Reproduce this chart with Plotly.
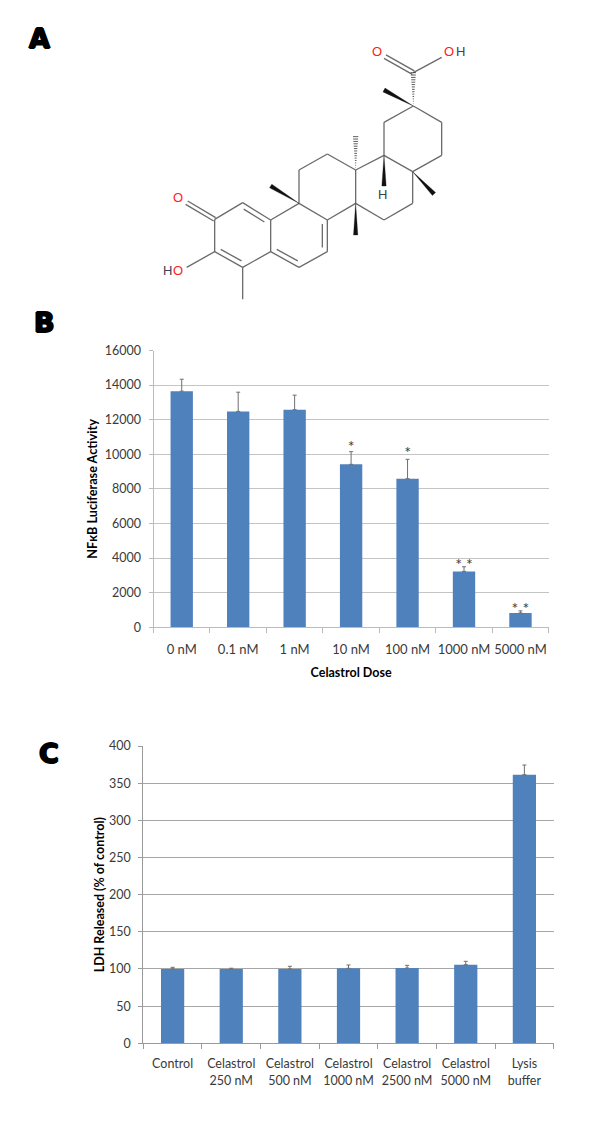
import plotly.graph_objects as go

# ---- data: panel B
dose_labels = ["0 nM", "0.1 nM", "1 nM", "10 nM", "100 nM", "1000 nM", "5000 nM"]
nfkb_values = [13650, 12480, 12580, 9420, 8590, 3230, 830]
nfkb_errors = [690, 1110, 840, 730, 1120, 270, 120]
nfkb_sig = ["", "", "", "*", "*", "* *", "* *"]
nfkb_sig_y = [None, None, None, 10390, 10010, 3560, 1010]
nfkb_ticks = [0, 2000, 4000, 6000, 8000, 10000, 12000, 14000, 16000]

# ---- data: panel C
ldh_labels = ["Control", "Celastrol<br>250 nM", "Celastrol<br>500 nM", "Celastrol<br>1000 nM",
              "Celastrol<br>2500 nM", "Celastrol<br>5000 nM", "Lysis<br>buffer"]
ldh_values = [100, 100, 100, 100.9, 101.3, 105.8, 361.4]
ldh_errors = [2.2, 1.0, 3.6, 4.5, 3.6, 4.5, 13]
ldh_ticks = [0, 50, 100, 150, 200, 250, 300, 350, 400]

# ---- data: molecule (drawing units of the structure sketch)
atoms = {
    "c": (850, 128), "o1": (765, 80), "o2": (935, 82), "q": (850, 228), "m1": (762, 180),
    "e1": (935, 277), "e2": (935, 376), "e3": (848, 425), "e4": (762, 376), "e5": (762, 277),
    "d1": (848, 520), "d2": (762, 570), "d3": (677, 520), "d4": (677, 420), "m2": (912, 492),
    "h": (762, 468), "c1": (592, 372), "c2": (507, 420), "c3": (507, 520), "c4": (592, 570),
    "m3": (677, 320), "m4": (422, 468), "m5": (677, 615),
    "b1": (422, 570), "b2": (422, 665), "b3": (507, 712), "b4": (592, 665),
    "a1": (338, 518), "a2": (254, 568), "a3": (254, 665), "a4": (338, 712),
    "o3": (170, 518), "o4": (170, 712), "m6": (338, 808),
}
single_bonds = [("c", "o2"), ("q", "e1"), ("e1", "e2"), ("e2", "e3"), ("e3", "e4"), ("e4", "e5"), ("e5", "q"),
                ("e3", "d1"), ("d1", "d2"), ("d2", "d3"), ("d3", "d4"), ("d4", "e4"),
                ("d4", "c1"), ("c1", "c2"), ("c2", "c3"), ("c3", "c4"), ("c4", "d3"),
                ("c3", "b1"), ("b1", "b2"), ("b3", "b4"), ("c4", "b4"),
                ("a1", "a2"), ("a2", "a3"), ("a4", "b2"), ("a3", "o4"), ("a4", "m6"),
                ("b2", "b3"), ("b1", "a1"), ("a3", "a4")]
ring_a_centre = (338, 615)
ring_b_centre = (507, 617)
inner_double = [("c4", "b4", ring_b_centre), ("b2", "b3", ring_b_centre),
                ("b1", "a1", ring_a_centre), ("a3", "a4", ring_a_centre)]
offset_double = [("c", "o1"), ("a2", "o3")]
wedges = [("q", "m1"), ("e3", "m2"), ("e4", "h"), ("c3", "m4"), ("d3", "m5")]
hashes = [("q", "c"), ("d4", "m3")]
mol_labels = [(740, 65, "O", "#ff2020"), (957, 65, "O", "#ff2020"), (990, 65, "H", "#404060"),
              (145, 503, "O", "#ff2020"), (113, 722, "H", "#404060"), (145, 722, "O", "#ff2020"),
              (757, 493, "H", "#404040")]
panel_letters = [("A", 39, 39), ("B", 44, 322.5), ("C", 49, 753)]

BAR = "#4f81bd"
TXT = "#3a3a3a"
FONT = "Lato"
fig = go.Figure()

err_style = dict(type="data", symmetric=False, color="#6f6f6f", thickness=1, width=2)
fig.add_trace(go.Bar(x=dose_labels, y=nfkb_values, marker=dict(color=BAR, line=dict(width=0)),
                     error_y=dict(array=nfkb_errors, arrayminus=[0] * 7, **err_style),
                     xaxis="x", yaxis="y", showlegend=False))
fig.add_trace(go.Scatter(x=dose_labels, y=nfkb_sig_y, text=nfkb_sig, mode="text",
                         textposition="middle center", textfont=dict(family=FONT, size=16, color=TXT),
                         xaxis="x", yaxis="y", showlegend=False))
fig.add_trace(go.Bar(x=ldh_labels, y=ldh_values, marker=dict(color=BAR, line=dict(width=0)),
                     error_y=dict(array=ldh_errors, arrayminus=[0] * 7, **err_style),
                     xaxis="x2", yaxis="y2", showlegend=False))

# molecule
MOL = "#6a6a6a"
xs, ys = [], []
def seg(p, q):
    xs.extend([p[0], q[0], None]); ys.extend([p[1], q[1], None])
for a, b in single_bonds:
    seg(atoms[a], atoms[b])
for a, b, ctr in inner_double:
    (x1, y1), (x2, y2) = atoms[a], atoms[b]
    dx, dy = x2 - x1, y2 - y1
    L = (dx * dx + dy * dy) ** 0.5
    nx, ny = -dy / L * 15, dx / L * 15
    mx, my = (x1 + x2) / 2, (y1 + y2) / 2
    if (ctr[0] - mx) * nx + (ctr[1] - my) * ny < 0:
        nx, ny = -nx, -ny
    seg((x1 + dx * 0.13 + nx, y1 + dy * 0.13 + ny), (x2 - dx * 0.13 + nx, y2 - dy * 0.13 + ny))
for a, b in offset_double:
    (x1, y1), (x2, y2) = atoms[a], atoms[b]
    dx, dy = x2 - x1, y2 - y1
    L = (dx * dx + dy * dy) ** 0.5
    nx, ny = -dy / L * 6, dx / L * 6
    seg((x1 + nx, y1 + ny), (x2 + nx, y2 + ny))
    seg((x1 - nx, y1 - ny), (x2 - nx, y2 - ny))
fig.add_trace(go.Scatter(x=xs, y=ys, mode="lines", line=dict(color=MOL, width=1.3),
                         xaxis="x3", yaxis="y3", showlegend=False, hoverinfo="skip"))
wx, wy = [], []
for a, b in wedges:
    (x1, y1), (x2, y2) = atoms[a], atoms[b]
    dx, dy = x2 - x1, y2 - y1
    L = (dx * dx + dy * dy) ** 0.5
    nx, ny = -dy / L * 6.5, dx / L * 6.5
    wx.extend([x1, x2 + nx, x2 - nx, x1, None]); wy.extend([y1, y2 + ny, y2 - ny, y1, None])
fig.add_trace(go.Scatter(x=wx, y=wy, mode="lines", fill="toself", fillcolor="#111111",
                         line=dict(color="#111111", width=0.3), xaxis="x3", yaxis="y3",
                         showlegend=False, hoverinfo="skip"))
hx, hy = [], []
for a, b in hashes:
    (x1, y1), (x2, y2) = atoms[a], atoms[b]
    dx, dy = x2 - x1, y2 - y1
    L = (dx * dx + dy * dy) ** 0.5
    for i in range(1, 15):
        t = i / 14
        hw = 8 * t
        hx.extend([x1 + dx * t - dy / L * hw, x1 + dx * t + dy / L * hw, None])
        hy.extend([y1 + dy * t + dx / L * hw, y1 + dy * t - dx / L * hw, None])
fig.add_trace(go.Scatter(x=hx, y=hy, mode="lines", line=dict(color="#333333", width=0.8),
                         xaxis="x3", yaxis="y3", showlegend=False, hoverinfo="skip"))
for x, y, t, c in mol_labels:
    fig.add_annotation(x=x, y=y, text=t, xref="x3", yref="y3", showarrow=False,
                       font=dict(family="Liberation Sans", size=13, color=c))

letter_shadow = "1px 0 0 #000, -1px 0 0 #000, 0 1px 0 #000, 0 -1px 0 #000"
for t, x, y in panel_letters:
    fig.add_annotation(x=x / 600, y=1 - y / 1128, xref="paper", yref="paper", text="<b>%s</b>" % t,
                       xanchor="center", yanchor="middle", showarrow=False,
                       font=dict(family="DejaVu Sans", size=27, color="#000000", shadow=letter_shadow))

W, H = 600.0, 1128.0
tick = dict(family=FONT, size=13, color=TXT)
ytick = dict(family=FONT, size=12.5, color=TXT)
title = dict(family=FONT, size=12.5, color="#000000")
fig.update_layout(
    width=600, height=1128, margin=dict(l=0, r=0, t=0, b=0), paper_bgcolor="white", plot_bgcolor="rgba(0,0,0,0)",
    barmode="overlay", bargap=0.604,
    xaxis=dict(domain=[153.5 / W, 548.7 / W], anchor="y", type="category", tickson="boundaries", automargin=False,
               ticks="outside", ticklen=5, tickcolor="#bbbbbb", showline=True, linecolor="#bbbbbb", tickangle=0,
               showgrid=False, tickfont=tick, ticklabelstandoff=10,
               title=dict(text="<b>Celastrol Dose</b>", font=title, standoff=12)),
    yaxis=dict(domain=[1 - 627.3 / H, 1 - 350.5 / H], anchor="x", range=[0, 16000], tickvals=nfkb_ticks, automargin=False,
               ticks="outside", ticklen=4, tickcolor="#bbbbbb", showline=True, linecolor="#bbbbbb", tickformat="d",
               gridcolor="#c4c4c4", gridwidth=1, zeroline=False, tickfont=ytick, ticklabelstandoff=5,
               title=dict(text="<b>NFκB Luciferase Activity</b>", font=dict(family=FONT, size=12.7, color="#000000"), standoff=4)),
    xaxis2=dict(domain=[143.3 / W, 553.7 / W], anchor="y2", type="category", tickson="boundaries", automargin=False,
                ticks="outside", ticklen=5, tickcolor="#9a9a9a", showline=True, linecolor="#9a9a9a", tickangle=0,
                showgrid=False, tickfont=dict(family=FONT, size=12.5, color=TXT), ticklabelstandoff=9),
    yaxis2=dict(domain=[1 - 1043.3 / H, 1 - 746 / H], anchor="x2", range=[0, 400], tickvals=ldh_ticks, automargin=False,
                ticks="outside", ticklen=4, tickcolor="#9a9a9a", showline=True, linecolor="#9a9a9a", tickformat="d",
                gridcolor="#a6a6a6", gridwidth=1, zeroline=False, tickfont=ytick, ticklabelstandoff=5,
                title=dict(text="<b>LDH Released (% of control)</b>", font=title, standoff=1)),
    xaxis3=dict(domain=[0, 1], range=[-390, 1410], visible=False, anchor="y3", automargin=False),
    yaxis3=dict(domain=[0, 1], range=[3294, -90], visible=False, anchor="x3", automargin=False),
)
fig.write_html("out.html", config=dict(displayModeBar=False), post_script="document.body.style.margin='0';")
